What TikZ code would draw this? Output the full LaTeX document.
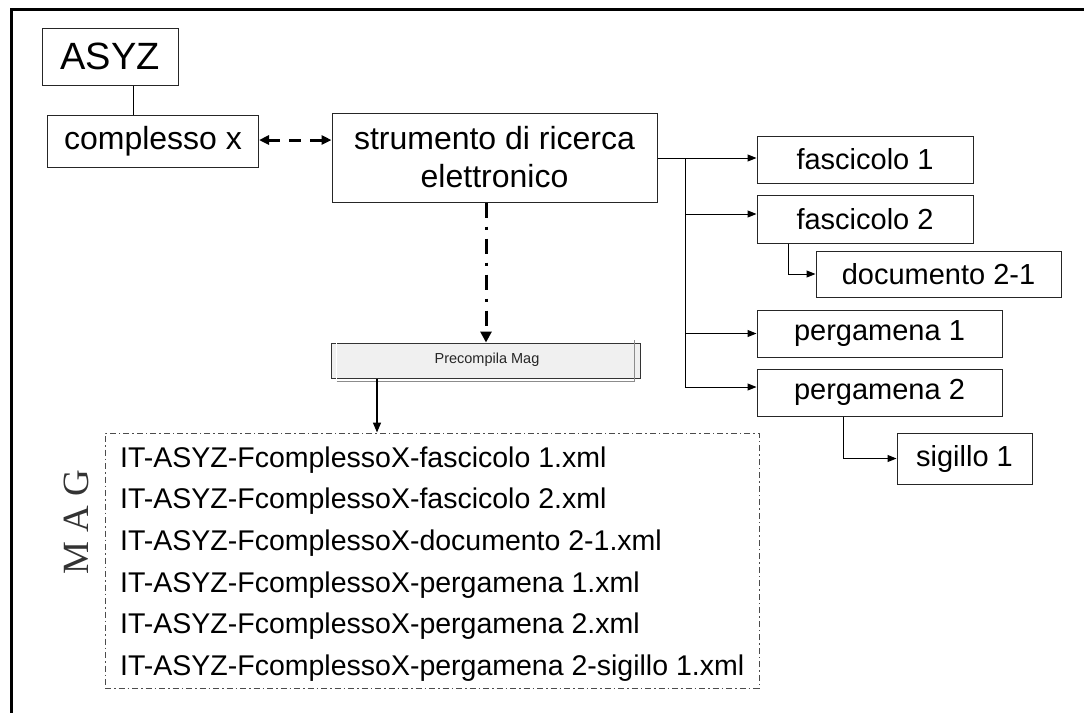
\documentclass[tikz,border=0pt]{standalone}
\usepackage{fontspec}
\setmainfont{Liberation Sans}
\newfontfamily\serifmag{Liberation Serif}
\usetikzlibrary{arrows.meta,calc}
\tikzset{
  box/.style={draw=black!85, line width=1pt, inner sep=0pt, align=center, fill=white},
  bigtxt/.style={font=\fontsize{32}{38}\selectfont},
  smalltxt/.style={font=\fontsize{29}{34}\selectfont},
  treeline/.style={draw=black, line width=1pt, -{Triangle[length=9pt,width=7pt]}},
  plainline/.style={draw=black, line width=1pt},
  listline/.style={anchor=base west, inner sep=0pt, font=\fontsize{28.5}{34}\selectfont},
}
\begin{document}
\begin{tikzpicture}[x=1pt,y=1pt]
\useasboundingbox (0,0) rectangle (1084,-713);
\fill[white] (0,0) rectangle (1084,-713);
% frame
\draw[line width=3pt] (1084,-9.3) -- (11.3,-9.3) -- (11.3,-713);

% nodes
\node[box, minimum width=136pt, minimum height=57pt, font=\fontsize{38}{44}\selectfont] (asyz) at (110,-56.5) {ASYZ};
\node[box, bigtxt, minimum width=211pt, minimum height=52pt] (cx) at (153,-141) {complesso x};
\node[box, bigtxt, minimum width=325pt, minimum height=89pt] (sr) at (494.5,-157.5) {strumento di ricerca\\elettronico};
\node[box, smalltxt, minimum width=216pt, minimum height=47pt] (f1) at (865,-159.5) {fascicolo 1};
\node[box, smalltxt, minimum width=216pt, minimum height=48pt] (f2) at (865,-219) {fascicolo 2};
\node[box, smalltxt, minimum width=245pt, minimum height=46pt] (doc) at (938.5,-274) {documento 2-1};
\node[box, smalltxt, minimum width=245pt, minimum height=47pt] (p1) at (879.5,-333.5) {pergamena 1};
\node[box, smalltxt, minimum width=245pt, minimum height=47pt] (p2) at (879.5,-392.5) {pergamena 2};
\node[box, smalltxt, minimum width=135pt, minimum height=51pt] (sig) at (964.5,-458.5) {sigillo 1};

% Precompila Mag button
\node[draw=black!80, line width=1pt, fill=black!6, minimum width=309pt, minimum height=35pt, inner sep=0pt,
      font=\fontsize{14.5}{17}\selectfont] (pm) at (485.5,-360.5) {};
\draw[white, line width=1.5pt] ([shift={(6pt,-3pt)}]pm.south west) -- ([shift={(6pt,3pt)}]pm.north west) -- ([shift={(-6pt,3pt)}]pm.north east);
\draw[black!45, line width=1.5pt] ([shift={(6pt,-3pt)}]pm.south west) -- ([shift={(-6pt,-3pt)}]pm.south east) -- ([shift={(-6pt,3pt)}]pm.north east);
\node[inner sep=0pt, font=\fontsize{14.5}{17}\selectfont, text=black!85] (pmt) at (487,-360) {Precompila Mag};

% MAG box
\node[draw=black!70, line width=1pt, dash pattern=on 6pt off 3pt on 1.5pt off 3pt,
      minimum width=654pt, minimum height=255pt, inner sep=0pt] (mag) at (432,-560.5) {};
\node[listline] (m1) at (120,-467) {IT-ASYZ-FcomplessoX-fascicolo 1.xml};
\node[listline] (m2) at (120,-508.7) {IT-ASYZ-FcomplessoX-fascicolo 2.xml};
\node[listline] (m3) at (120,-550.4) {IT-ASYZ-FcomplessoX-documento 2-1.xml};
\node[listline] (m4) at (120,-592.1) {IT-ASYZ-FcomplessoX-pergamena 1.xml};
\node[listline] (m5) at (120,-633.8) {IT-ASYZ-FcomplessoX-pergamena 2.xml};
\node[listline] (m6) at (120,-675.5) {IT-ASYZ-FcomplessoX-pergamena 2-sigillo 1.xml};
\node[rotate=90, inner sep=0pt, font=\serifmag\fontsize{37}{42}\selectfont, text=black!80] (maglabel) at (76,-522) {M A G};

% connectors
\draw[plainline] ([xshift=23pt]asyz.south) -- ([xshift=23pt]asyz.south |- cx.north);
\draw[line width=3pt, dash pattern=on 12pt off 9pt,
      {Triangle[length=10pt,width=9pt]}-{Triangle[length=10pt,width=9pt]}]
      ([yshift=1pt]cx.east) -- ([yshift=1pt]cx.east -| sr.west);
\coordinate (tr) at (685,-158);
\draw[plainline] (sr.east |- tr) -- (tr) -- (tr |- 0,-387);
\draw[treeline] (tr) -- (tr -| f1.west);
\draw[treeline] (tr |- 0,-214) -- (f2.west |- 0,-214);
\draw[treeline] (tr |- p1.west) -- (p1.west);
\draw[treeline] (tr |- 0,-387) -- (p2.west |- 0,-387);
\draw[treeline] ([xshift=-77pt]f2.south) |- (doc.west);
\draw[treeline] ([xshift=-36.5pt]p2.south) |- (sig.west);
\draw[line width=3pt, dash pattern=on 15pt off 9pt on 3pt off 9pt, -{Triangle[length=11pt,width=11pt]}]
      ([xshift=-8.5pt]sr.south) -- ([xshift=-8.5pt]sr.south |- pm.north);
\draw[line width=1.5pt, -{Triangle[length=10pt,width=8pt]}]
      ([xshift=-108.5pt]pm.south) -- ([xshift=-108.5pt]pm.south |- mag.north);
\end{tikzpicture}
\end{document}
